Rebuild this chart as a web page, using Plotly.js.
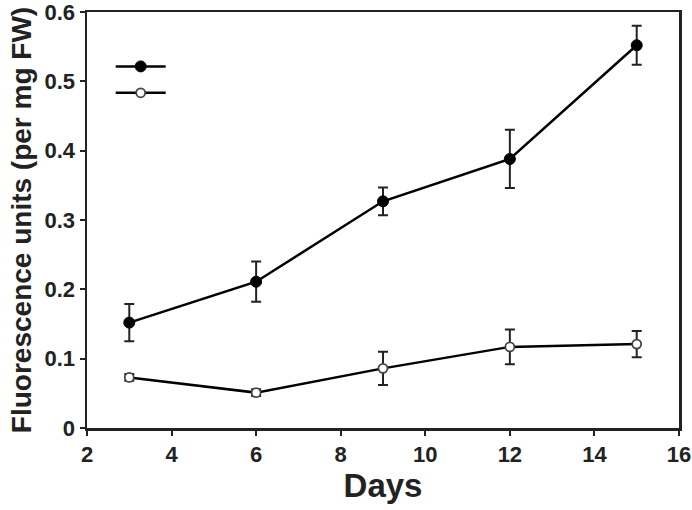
<!DOCTYPE html>
<html>
<head>
<meta charset="utf-8">
<script src="https://cdn.plot.ly/plotly-3.0.1.min.js"></script>
<style>html,body{margin:0;padding:0;background:#fff;}#chart{width:692px;height:510px;}</style>
</head>
<body>
<div id="chart"></div>
<script>
var days = [3, 6, 9, 12, 15];
var filledValues = [0.152, 0.211, 0.327, 0.388, 0.552];
var filledErrors = [0.027, 0.029, 0.020, 0.042, 0.028];
var openValues = [0.073, 0.051, 0.086, 0.117, 0.121];
var openErrors = [0.005, 0.005, 0.024, 0.025, 0.019];
var xTickVals = [2, 4, 6, 8, 10, 12, 14, 16];
var yTickVals = [0, 0.1, 0.2, 0.3, 0.4, 0.5, 0.6];
var yTickText = ['0', '0.1', '0.2', '0.3', '0.4', '0.5', '0.6'];

var sans = '"Liberation Sans", Arial, sans-serif';
var tickFont = {family: sans, size: 22, color: '#222', weight: 'bold'};

var traces = [
  {
    x: days, y: filledValues, name: ' ', mode: 'lines+markers',
    line: {color: '#000', width: 2.5},
    marker: {symbol: 'circle', size: 11, color: '#000', line: {color: '#000', width: 1}},
    error_y: {type: 'data', array: filledErrors, visible: true, color: '#222', thickness: 2, width: 5}
  },
  {
    x: days, y: openValues, name: ' ', mode: 'lines+markers',
    line: {color: '#000', width: 2.5},
    marker: {symbol: 'circle', size: 9, color: '#fff', line: {color: '#444', width: 1.8}},
    error_y: {type: 'data', array: openErrors, visible: true, color: '#222', thickness: 2, width: 5}
  }
];

var layout = {
  width: 692, height: 510,
  margin: {l: 87, r: 13, t: 12, b: 82},
  paper_bgcolor: '#fff', plot_bgcolor: '#fff',
  showlegend: true,
  legend: {x: 0.04, y: 0.913, xanchor: 'left', yanchor: 'top', bgcolor: 'rgba(0,0,0,0)', font: {size: 18}, itemwidth: 50, tracegroupgap: 0},
  xaxis: {
    range: [2, 16], tickvals: xTickVals, ticks: 'outside', ticklen: 5, tickwidth: 2, tickcolor: '#222',
    showline: true, linecolor: '#222', linewidth: 2.5, mirror: true, showgrid: false, zeroline: false,
    tickfont: tickFont, ticklabeloverflow: 'allow',
    title: {text: 'Days', font: {family: sans, size: 33, color: '#222', weight: 'bold'}, standoff: 5}
  },
  yaxis: {
    range: [0, 0.6], tickvals: yTickVals, ticktext: yTickText, ticks: 'outside', ticklen: 5, tickwidth: 2, tickcolor: '#222',
    showline: true, linecolor: '#222', linewidth: 2.5, mirror: true, showgrid: false, zeroline: false,
    tickfont: tickFont, ticklabeloverflow: 'allow',
    title: {text: 'Fluorescence units (per mg FW)', font: {family: sans, size: 28, color: '#222', weight: 'bold'}, standoff: 5}
  }
};

Plotly.newPlot('chart', traces, layout, {displayModeBar: false, staticPlot: true});
</script>
</body>
</html>
